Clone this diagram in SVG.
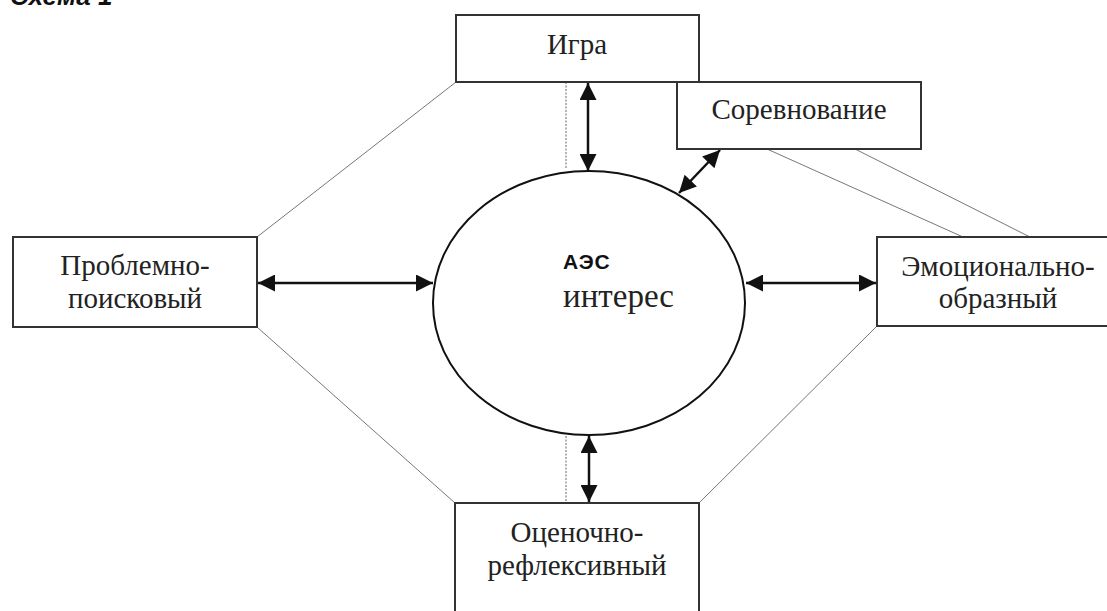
<svg xmlns="http://www.w3.org/2000/svg" width="1107" height="611" viewBox="0 0 1107 611">
<style>
.box{fill:#fff;stroke:#333;stroke-width:2}
.lbl{font-family:"Liberation Serif","Times New Roman",serif;font-size:29px;fill:#222;text-anchor:middle}
.thin{stroke:#777;stroke-width:1;fill:none}
.dot{stroke:#666;stroke-width:1;stroke-dasharray:2 1.5;fill:none}
.arr{stroke:#111;stroke-width:2.5;fill:none;marker-start:url(#ah);marker-end:url(#ah)}
</style>
<defs>
<marker id="ah" viewBox="0 0 10 10" refX="10" refY="5" markerWidth="19" markerHeight="17" markerUnits="userSpaceOnUse" orient="auto-start-reverse">
<path d="M0,0 L10,5 L0,10 z" fill="#111"/>
</marker>
</defs>
<rect width="1107" height="611" fill="#fff"/>
<text x="10" y="5" font-family="Liberation Sans, Arial, sans-serif" font-size="26" font-weight="bold" font-style="italic" fill="#111">Схема 1</text>
<g id="connectors">
<line class="thin" x1="456" y1="82" x2="257" y2="237"/>
<line class="thin" x1="257" y1="327" x2="455" y2="503"/>
<line class="thin" x1="877" y1="326" x2="699" y2="503"/>
<line class="thin" x1="767" y1="149" x2="963" y2="237"/>
<line class="thin" x1="855" y1="149" x2="1030" y2="237"/>
<line class="dot" x1="566" y1="82" x2="566" y2="169"/>
<line class="dot" x1="566" y1="436" x2="566" y2="503"/>
<line class="arr" x1="588" y1="83" x2="588" y2="171"/>
<line class="arr" x1="589" y1="436" x2="589" y2="502"/>
<line class="arr" x1="720" y1="150" x2="679" y2="193"/>
<line class="arr" x1="258" y1="283" x2="433" y2="283"/>
<line class="arr" x1="746" y1="283" x2="876" y2="283"/>
</g>
<g id="node-igra">
<rect class="box" x="456" y="15" width="243" height="67"/>
<text class="lbl" x="577" y="54">Игра</text>
</g>
<g id="node-sorevnovanie">
<rect class="box" x="677" y="82" width="244" height="67"/>
<text class="lbl" x="799" y="119">Соревнование</text>
</g>
<g id="node-problem">
<rect class="box" x="13" y="237" width="244" height="90"/>
<text class="lbl" x="135" y="275">Проблемно-</text>
<text class="lbl" x="135" y="308">поисковый</text>
</g>
<g id="node-emotion">
<rect class="box" x="877" y="237" width="245" height="89"/>
<text class="lbl" x="998" y="276">Эмоционально-</text>
<text class="lbl" x="998" y="308">образный</text>
</g>
<g id="node-ocenochno">
<rect class="box" x="455" y="503" width="244" height="120"/>
<text class="lbl" x="577" y="542">Оценочно-</text>
<text class="lbl" x="577" y="575">рефлексивный</text>
</g>
<g id="node-center">
<ellipse cx="589" cy="303" rx="156" ry="132" fill="#fff" stroke="#111" stroke-width="2"/>
<text x="563" y="269" font-family="Liberation Sans, Arial, sans-serif" font-size="21" font-weight="bold" fill="#111" letter-spacing="1">АЭС</text>
<text x="563" y="307" font-family="Liberation Serif, Times New Roman, serif" font-size="33" fill="#222">интерес</text>
</g>
</svg>
